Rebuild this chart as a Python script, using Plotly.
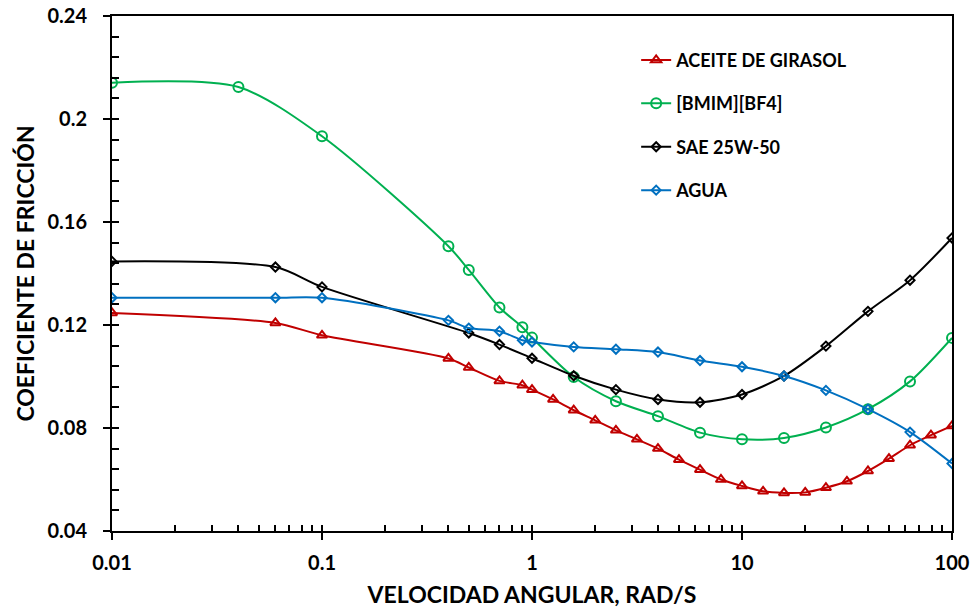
import plotly.graph_objects as go

# Angular velocity (rad/s) and friction coefficient for each lubricant
x_girasol = [0.01, 0.06, 0.1, 0.4, 0.5, 0.7, 0.9, 1.0, 1.26, 1.58, 2.0, 2.51, 3.16, 3.98,
             5.01, 6.31, 7.94, 10.0, 12.6, 15.85, 20.0, 25.1, 31.6, 39.8, 50.1, 63.1, 79.4, 100.0]
y_girasol = [0.1247, 0.1208, 0.1160, 0.1070, 0.1035, 0.0983, 0.0966, 0.0949, 0.0911, 0.0869,
             0.0830, 0.0791, 0.0756, 0.0720, 0.0677, 0.0638, 0.0600, 0.0575, 0.0554, 0.0548,
             0.0550, 0.0568, 0.0593, 0.0633, 0.0681, 0.0733, 0.0772, 0.0808]

x_bmim = [0.01, 0.04, 0.1, 0.4, 0.5, 0.7, 0.9, 1.0, 1.58, 2.51, 3.98, 6.31, 10.0, 15.85,
          25.1, 39.8, 63.1, 100.0]
y_bmim = [0.2141, 0.2124, 0.1933, 0.1506, 0.1414, 0.1268, 0.1191, 0.1151, 0.0998, 0.0904,
          0.0846, 0.0782, 0.0756, 0.0761, 0.0802, 0.0873, 0.0981, 0.1150]

x_sae = [0.01, 0.06, 0.1, 0.5, 0.7, 1.0, 1.58, 2.51, 3.98, 6.31, 10.0, 15.85, 25.1, 39.8,
         63.1, 100.0]
y_sae = [0.1447, 0.1425, 0.1348, 0.1169, 0.1124, 0.1071, 0.1003, 0.0949, 0.0911, 0.0900,
         0.0930, 0.1002, 0.1118, 0.1253, 0.1374, 0.1538]

x_agua = [0.01, 0.06, 0.1, 0.4, 0.5, 0.7, 0.9, 1.0, 1.58, 2.51, 3.98, 6.31, 10.0, 15.85,
          25.1, 39.8, 63.1, 100.0]
y_agua = [0.1306, 0.1306, 0.1306, 0.1218, 0.1188, 0.1176, 0.1141, 0.1134, 0.1115, 0.1106,
          0.1095, 0.1062, 0.1038, 0.1002, 0.0946, 0.0873, 0.0784, 0.0662]

x_ticks = [0.01, 0.1, 1, 10, 100]
x_ticktext = ["0.01", "0.1", "1", "10", "100"]
y_ticks = [0.04, 0.08, 0.12, 0.16, 0.20, 0.24]
y_ticktext = ["0.04", "0.08", "0.12", "0.16", "0.2", "0.24"]

FONT = "Lato"
series = [
    ("ACEITE DE GIRASOL", x_girasol, y_girasol, "#C00000", "triangle-up-open", 9),
    ("[BMIM][BF4]", x_bmim, y_bmim, "#00B050", "circle-open", 10),
    ("SAE 25W-50", x_sae, y_sae, "#000000", "diamond-open", 7),
    ("AGUA", x_agua, y_agua, "#0070C0", "diamond-open", 7),
]

# inner tick positions: every digit of each decade on x, every 0.008 on y
x_inner = [d * 10.0 ** e for e in range(-2, 2) for d in range(1, 10)] + [100.0]
y_inner = [round(0.04 + 0.008 * k, 3) for k in range(26)]

fig = go.Figure()
for i, (name, xs, ys, color, symbol, size) in enumerate(series):
    fig.add_trace(go.Scatter(
        x=xs, y=ys, name=name, mode="lines+markers",
        legendgroup=f"g{i}",
        line=dict(color=color, width=2, shape="spline", smoothing=0.8),
        marker=dict(symbol=symbol, size=size, color=color,
                    line=dict(color=color, width=2)),
    ))

# invisible anchor trace so the overlay tick axes get rendered
fig.add_trace(go.Scatter(x=[1], y=[0.1], xaxis="x2", yaxis="y2", mode="markers",
                         marker=dict(opacity=0), showlegend=False, hoverinfo="skip"))

axis_common = dict(showgrid=False, zeroline=False, linecolor="black", linewidth=2,
                   tickcolor="black", tickwidth=2, automargin=False)

fig.update_layout(
    width=975, height=615,
    margin=dict(l=112, r=23, t=16, b=84),
    paper_bgcolor="white", plot_bgcolor="white",
    font=dict(family=FONT, color="black"),
    xaxis=dict(
        type="log", range=[-2, 2], showline=True, mirror=True,
        tickvals=x_ticks, ticktext=x_ticktext, ticks="outside", ticklen=7,
        tickfont=dict(family=FONT, size=20, weight="bold"),
        ticklabelstandoff=6,
        title=dict(text="VELOCIDAD ANGULAR, RAD/S", standoff=14,
                   font=dict(family=FONT, size=23, weight="bold")),
        **axis_common,
    ),
    yaxis=dict(
        range=[0.04, 0.24], showline=True, mirror=True,
        tickvals=y_ticks, ticktext=y_ticktext, ticks="outside", ticklen=7,
        tickfont=dict(family=FONT, size=20, weight="bold"),
        ticklabelstandoff=12,
        title=dict(text="COEFICIENTE DE FRICCIÓN", standoff=6,
                   font=dict(family=FONT, size=23, weight="bold")),
        **axis_common,
    ),
    xaxis2=dict(type="log", range=[-2, 2], overlaying="x", anchor="y", side="bottom",
                tickvals=x_inner, ticks="inside", ticklen=6, tickwidth=2, tickcolor="black",
                showticklabels=False, showgrid=False, zeroline=False, showline=False,
                automargin=False),
    yaxis2=dict(range=[0.04, 0.24], overlaying="y", anchor="x", side="left",
                tickvals=y_inner, ticks="inside", ticklen=7, tickwidth=2, tickcolor="black",
                showticklabels=False, showgrid=False, zeroline=False, showline=False,
                automargin=False),
    legend=dict(
        x=0.624, y=0.95, xanchor="left", yanchor="top",
        bgcolor="rgba(0,0,0,0)", borderwidth=0,
        font=dict(family=FONT, size=18, weight="bold", color="black"),
        tracegroupgap=17, itemwidth=30,
    ),
)

fig.write_html("out.html")
